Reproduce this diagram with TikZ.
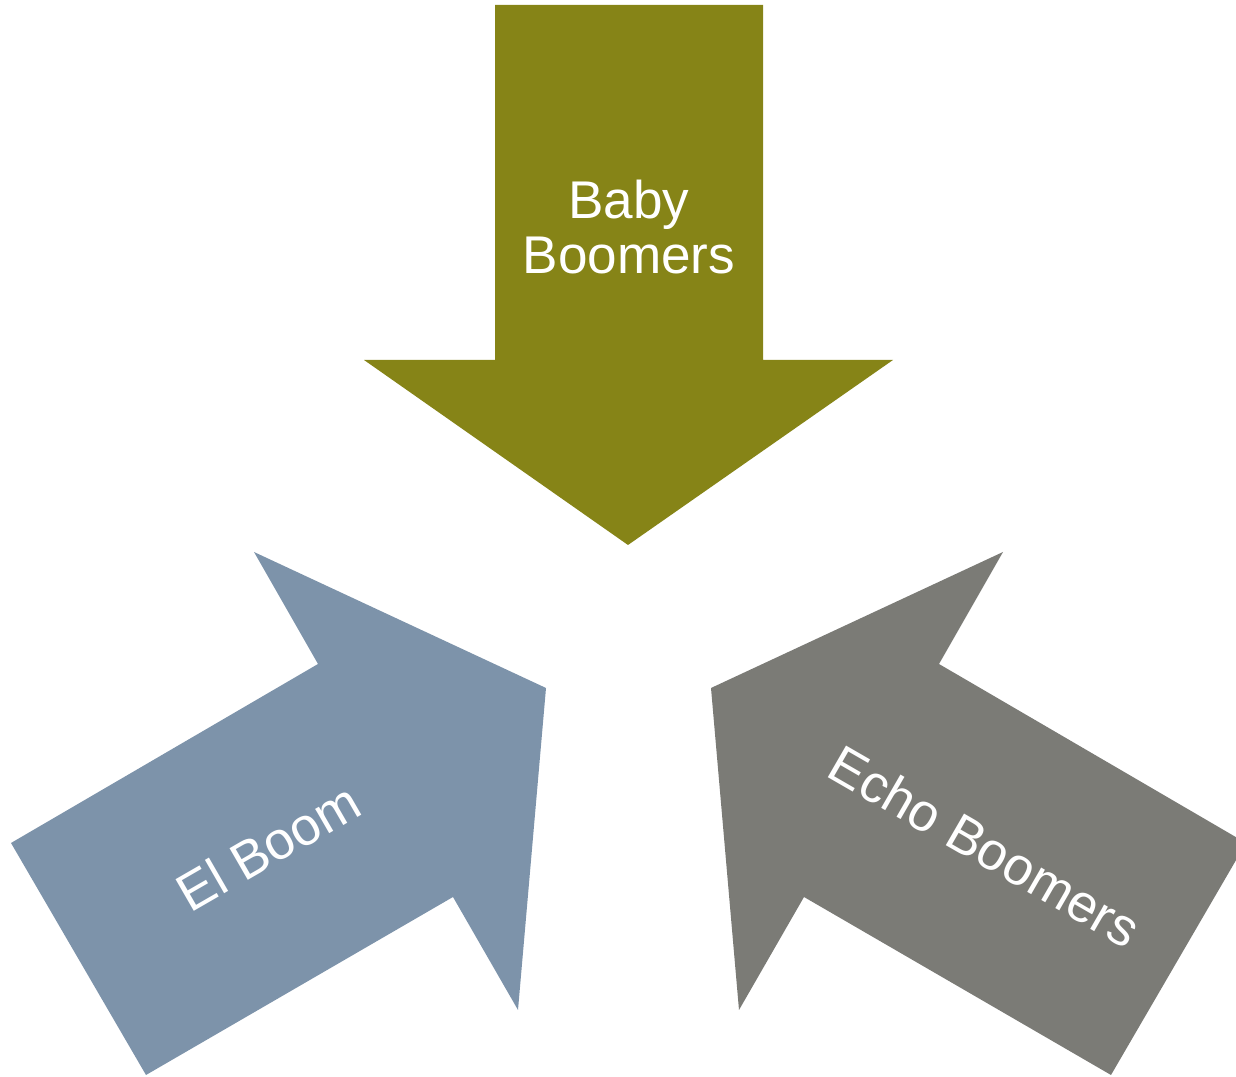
\documentclass[tikz,border=0pt]{standalone}
\usepackage{fontspec}
\setmainfont{Liberation Sans}
\usepackage{xcolor}
\definecolor{olivebar}{HTML}{868417}
\definecolor{bluebar}{HTML}{7D93AA}
\definecolor{greybar}{HTML}{7B7B76}
\tikzstyle{bigarrow} = [draw=none]
\tikzstyle{boomtext} = [text=white, font=\fontsize{15.1}{15.8}\selectfont, align=center, inner sep=0pt]

\begin{document}
\begin{tikzpicture}[x=0.01cm, y=-0.01cm]
    \useasboundingbox (0,0) rectangle (1236,1077);
    \clip (0,0) rectangle (1236,1077);
    % the three arrows
    \fill [bigarrow, olivebar] (495,5) -- (763,5) -- (763,360) -- (893,360) -- (628,545) -- (364,360) -- (495,360) -- cycle;
    \fill [bigarrow, bluebar] (11,843) -- (318,664) -- (254,552) -- (546,688) -- (518,1010) -- (453,897) -- (146,1075) -- cycle;
    \fill [bigarrow, greybar] (1246,843) -- (939,664) -- (1003,552) -- (711,688) -- (739,1010) -- (804,897) -- (1111,1075) -- cycle;

    \node (baby) [boomtext] at (629,227) {Baby\\Boomers};
    \node (elboom) [boomtext, rotate=30] at (268,847) {El Boom};
    \node (echo) [boomtext, rotate=-30] at (985,846) {Echo Boomers};
\end{tikzpicture}
\end{document}
